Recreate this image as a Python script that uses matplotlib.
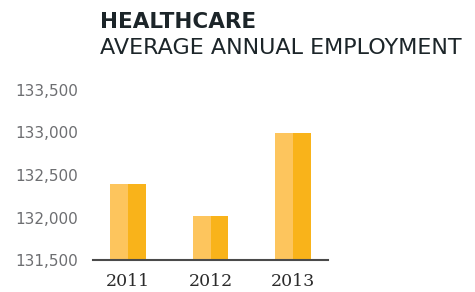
import matplotlib.pyplot as plt
import numpy as np

# data
years = ["2011", "2012", "2013"]
employment = [132390, 132020, 132990]
y_ticks = [131500, 132000, 132500, 133000, 133500]

light = "#FDC55D"
dark = "#F9B31A"

fig = plt.figure(figsize=(4.75, 2.92), dpi=100)
ax = fig.add_axes([93 / 475, 1 - 260 / 292, 235 / 475, 170 / 292])

x = np.arange(len(years))
w = 0.436
base = y_ticks[0]
heights = np.array(employment) - base
# each bar is two-tone: lighter left half, darker right half
ax.bar(x - w / 4, heights, width=w / 2, bottom=base, color=light, linewidth=0)
ax.bar(x + w / 4, heights, width=w / 2, bottom=base, color=dark, linewidth=0)

ax.set_xlim(-0.424, 2.424)
ax.set_ylim(y_ticks[0], y_ticks[-1])
ax.set_yticks(y_ticks)
ax.set_yticklabels([f"{v:,}" for v in y_ticks], fontsize=11, color="#6d6e71")
ax.set_xticks(x)
ax.set_xticklabels(years, family="DejaVu Serif", fontsize=12.5, color="#2b2b2b")
ax.tick_params(axis="y", length=0, pad=11)
ax.tick_params(axis="x", length=0, pad=9)

for s in ["top", "right", "left"]:
    ax.spines[s].set_visible(False)
ax.spines["bottom"].set_color("#4a4a4a")
ax.spines["bottom"].set_linewidth(1.5)

title_color = "#1c2529"
fig.text(100 / 475, 1 - 28 / 292, "HEALTHCARE", fontsize=15.5, fontweight="bold",
         color=title_color, va="baseline", ha="left")
fig.text(100 / 475, 1 - 54 / 292, "AVERAGE ANNUAL EMPLOYMENT", fontsize=16,
         color=title_color, va="baseline", ha="left")

fig.savefig("out.png", dpi=100)
